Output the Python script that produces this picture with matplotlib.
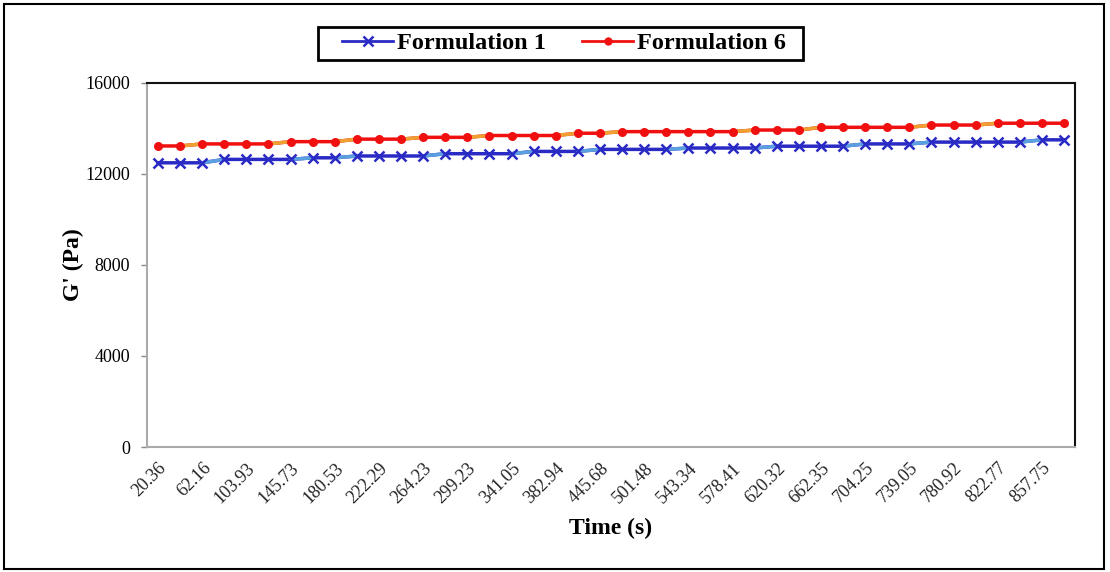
import matplotlib
matplotlib.use('Agg')
import matplotlib.pyplot as plt
from matplotlib.lines import Line2D
from matplotlib.patches import Rectangle
import numpy as np

# time labels shown on the category axis (every second sample is labelled)
time_labels = ['20.36', '62.16', '103.93', '145.73', '180.53', '222.29', '264.23',
               '299.23', '341.05', '382.94', '445.68', '501.48', '543.34', '578.41',
               '620.32', '662.35', '704.25', '739.05', '780.92', '822.77', '857.75']

# storage modulus G' (Pa), one value per sample
g_form1 = [12490, 12490, 12490,
           12640, 12640, 12640, 12640,
           12710, 12710,
           12790, 12790, 12790, 12790,
           12890, 12890, 12890, 12890,
           12990, 12990, 12990,
           13080, 13080, 13080, 13080,
           13140, 13140, 13140, 13140,
           13220, 13220, 13220, 13220,
           13320, 13320, 13320,
           13400, 13400, 13400, 13400, 13400,
           13500, 13500]
g_form6 = [13230, 13230,
           13320, 13320, 13320, 13320,
           13420, 13420, 13420,
           13530, 13530, 13530,
           13610, 13610, 13610,
           13690, 13690, 13690, 13690,
           13790, 13790,
           13860, 13860, 13860, 13860, 13860, 13860,
           13930, 13930, 13930,
           14050, 14050, 14050, 14050, 14050,
           14150, 14150, 14150,
           14230, 14230, 14230, 14230]

plt.rcParams['font.family'] = ['Liberation Serif', 'DejaVu Serif']

fig = plt.figure(figsize=(11.1, 5.72), dpi=100)
ax = fig.add_axes([0.1324, 0.2185, 0.8361, 0.6365])

x = np.arange(len(g_form1))


def draw_series(vals, color, slope_color, marker, ms, mew):
    vals = np.asarray(vals)
    ax.plot(x, vals, color=color, lw=2.5, zorder=2)
    # rising segments render in a lighter tint
    for i in range(len(vals) - 1):
        if vals[i + 1] != vals[i]:
            ax.plot(x[i:i + 2], vals[i:i + 2], color=slope_color, lw=2.5, zorder=2.5)
    ax.plot(x, vals, ls='none', marker=marker, ms=ms, mew=mew,
            color=color, zorder=3)


draw_series(g_form1, '#2a2ac4', '#5aa0e0', 'x', 7, 1.8)
draw_series(g_form6, '#f01010', '#f0a030', 'o', 6.5, 0)

ax.set_xlim(-0.5, len(x) - 0.5)
ax.set_ylim(0, 16000)
ax.set_yticks(np.arange(0, 16001, 4000))
ax.set_yticklabels([str(v) for v in range(0, 16001, 4000)], fontsize=13)
ax.set_xticks(x[::2])
ax.set_xticklabels(time_labels, rotation=45, ha='right', va='top',
                   rotation_mode='anchor', fontsize=13, color='#222222')
ax.tick_params(axis='x', length=0, pad=9)
ax.tick_params(axis='y', length=4, width=1, color='#888888', pad=8)

for side in ['left', 'bottom']:
    ax.spines[side].set_color('#aaaaaa')
    ax.spines[side].set_linewidth(1.5)
for side in ['top', 'right']:
    ax.spines[side].set_color('#111111')
    ax.spines[side].set_linewidth(1.5)

ax.set_xlabel('Time (s)', fontsize=17, fontweight='bold', labelpad=8)
ax.set_ylabel("G' (Pa)", fontsize=17, fontweight='bold', labelpad=1)

handles = [Line2D([], [], color='#2a2ac4', lw=2, marker='x', ms=7, mew=1.8),
           Line2D([], [], color='#f01010', lw=2, marker='o', ms=6, mew=0)]
leg = fig.legend(handles, ['Formulation 1', 'Formulation 6'], loc='center',
                 bbox_to_anchor=(0.508, 0.924), ncol=2, frameon=False,
                 handlelength=2.1, handletextpad=0.15, columnspacing=1.5,
                 borderaxespad=0, prop={'weight': 'bold', 'size': 17.5})

# legend box, wider than its entries
fig.patches.append(Rectangle((0.2865, 0.8951), 0.4369, 0.0577, transform=fig.transFigure,
                             fill=False, edgecolor='black', lw=2))

# border around the whole chart
fig.patches.append(Rectangle((0.004, 0.006), 0.991, 0.987, transform=fig.transFigure,
                             fill=False, edgecolor='black', lw=1.5))

fig.savefig('out.png', dpi=100)
